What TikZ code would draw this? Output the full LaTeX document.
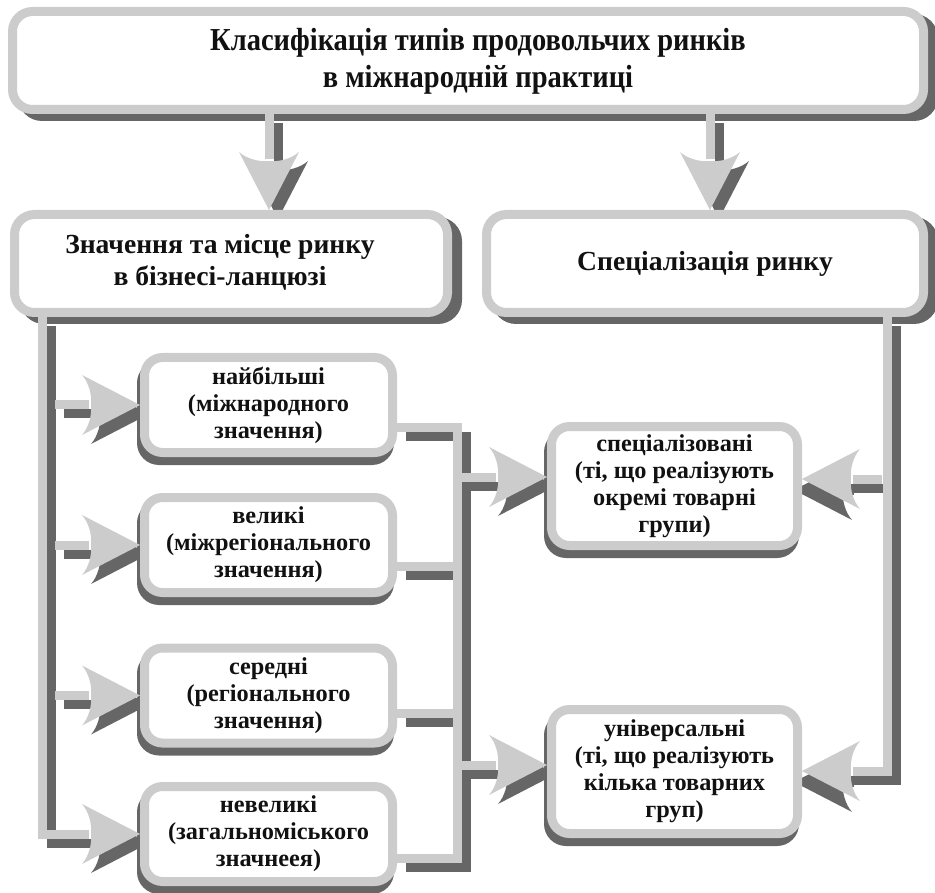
\documentclass[tikz,border=0pt]{standalone}
\usepackage{fontspec}
\setmainfont{Liberation Serif}
\newfontfamily\titlefont{Liberation Serif}[FakeStretch=0.89]
\usetikzlibrary{arrows.meta,calc}
\definecolor{pipelight}{HTML}{CCCCCC}
\definecolor{pipedark}{HTML}{666666}
\definecolor{ink}{HTML}{111111}
\pgfdeclarelayer{lyrA}
\pgfdeclarelayer{lyrB}
\pgfdeclarelayer{lyrC}
\pgfsetlayers{lyrA,lyrB,lyrC,main}
\pgfdeclarearrow{
  name = BigHead,
  parameters = {},
  setup code = {
    \pgfarrowssettipend{0pt}
    \pgfarrowssetlineend{-51pt}
    \pgfarrowssetbackend{-58pt}
    \pgfarrowshullpoint{0pt}{0pt}
    \pgfarrowsupperhullpoint{-58pt}{30pt}
  },
  drawing code = {
    \pgfpathmoveto{\pgfqpoint{0pt}{0pt}}
    \pgfpathlineto{\pgfqpoint{-58pt}{30pt}}
    \pgfpathcurveto{\pgfqpoint{-51pt}{22pt}}{\pgfqpoint{-48pt}{10pt}}{\pgfqpoint{-49pt}{0pt}}
    \pgfpathcurveto{\pgfqpoint{-48pt}{-10pt}}{\pgfqpoint{-51pt}{-22pt}}{\pgfqpoint{-58pt}{-30pt}}
    \pgfpathclose
    \pgfusepathqfill
  }
}
\tikzset{
  card/.style={draw=pipelight, fill=white, line width=9pt, rounded corners=20pt,
    inner sep=0pt, outer sep=4.5pt, align=center, text=ink},
  bigcard/.style={card, font=\bfseries\fontsize{27.6}{32}\selectfont},
  smallcard/.style={card, rounded corners=18pt, font=\bfseries\fontsize{24.3}{27}\selectfont},
  plaintext/.style={inner sep=0pt, align=center, text=ink},
  tip/.style={-BigHead},
  ltip/.style={tip},
  bigshadow/.style={pipedark, rounded corners=24pt, transform canvas={xshift=10pt,yshift=-7pt}},
  smallshadow/.style={pipedark, rounded corners=22pt, transform canvas={xshift=-3pt,yshift=-8pt}},
}
\newcommand\allpipes{%
  \draw[tip] (top.south -| ax1) -- (lbox.north -| ax1);
  \draw[tip] (top.south -| ax2) -- (rbox.north -| ax2);
  \draw[tip] (lbox.south -| lx) |- (sub4.west);
  \draw[tip] (sub1.west -| bx) -- (sub1.west);
  \draw[tip] (sub2.west -| bx) -- (sub2.west);
  \draw[tip] (sub3.west -| bx) -- (sub3.west);
  \draw (sub1.east |- m1) -- (m1) -- (m4) -- (sub4.east |- m4);
  \draw (sub2.east |- c2) -- (c2);
  \draw (sub3.east |- c3) -- (c3);
  \draw[tip] (ml1) -- (spec.west |- ml1);
  \draw[tip] (ml2) -- (univ.west |- ml2);
  \draw[ltip] (rbox.south -| r2) -- (r2) -- (univ.east |- r2);
  \draw[ltip] (r1) -- (spec.east |- r1);
}
\begin{document}
\begin{tikzpicture}[x=1pt,y=-1pt]
\useasboundingbox (0,0) rectangle (935,893);
% boxes
\node[card, minimum width=911pt, minimum height=98pt] (top) at (468,60.5) {};
\node[plaintext, font=\titlefont\bfseries\fontsize{32}{37}\selectfont] (toptext) at (478,61)
  {Класифікація типів продовольчих ринків\\в міжнародній практиці};
\node[bigcard, minimum width=433pt, minimum height=98pt] (lbox) at (231,263.5) {};
\node[plaintext, font=\bfseries\fontsize{27.6}{32}\selectfont] (lboxtext) at (220,262)
  {Значення та місце ринку\\в бізнесі-ланцюзі};
\node[bigcard, minimum width=437pt, minimum height=98pt] (rbox) at (705,263.5) {Спеціалізація ринку};
\node[smallcard, minimum width=248pt, minimum height=95pt] (sub1) at (268.5,405) {найбільші\\(міжнародного\\значення)};
\node[smallcard, minimum width=248pt, minimum height=95pt] (sub2) at (268.5,545) {великі\\(міжрегіонального\\значення)};
\node[smallcard, minimum width=248pt, minimum height=95pt] (sub3) at (268.5,695.5) {середні\\(регіонального\\значення)};
\node[smallcard, minimum width=248pt, minimum height=95pt] (sub4) at (268.5,834) {невеликі\\(загальноміського\\значнеея)};
\node[smallcard, minimum width=246pt, minimum height=119pt] (spec) at (674.5,486) {спеціалізовані\\(ті, що реалізують\\окремі товарні\\групи)};
\node[smallcard, minimum width=246pt, minimum height=124pt] (univ) at (674.5,771.5) {універсальні\\(ті, що реалізують\\кілька товарних\\груп)};
% helper coordinates
\coordinate (ax1) at (269,0);
\coordinate (ax2) at (710,0);
\coordinate (lx) at (42,0);
\coordinate (bx) at (55,0);
\coordinate (m1) at (457,427);
\coordinate (m4) at (457,858);
\coordinate (c2) at (457,566);
\coordinate (c3) at (457,713);
\coordinate (ml1) at (462,477);
\coordinate (ml2) at (462,765);
\coordinate (r1) at (882,479);
\coordinate (r2) at (887,771);
% box shadows
\begin{pgfonlayer}{lyrA}
  \foreach \b in {top,lbox,rbox}
    \fill[bigshadow] (\b.north west) rectangle (\b.south east);
  \foreach \b in {sub1,sub2,sub3,sub4,spec,univ}
    \fill[smallshadow] (\b.north west) rectangle (\b.south east);
\end{pgfonlayer}
% pipe shadows
\begin{pgfonlayer}{lyrB}
  \begin{scope}[pipedark, line width=9pt, ltip/.style={}, transform canvas={xshift=9pt,yshift=-9pt}]
    \allpipes
  \end{scope}
  \begin{scope}[pipedark, line width=9pt, transform canvas={xshift=-8pt,yshift=-11pt}]
    \draw[tip] ($(spec.east |- r1)+(60,0)$) -- (spec.east |- r1);
    \draw[tip] ($(univ.east |- r2)+(60,0)$) -- (univ.east |- r2);
  \end{scope}
\end{pgfonlayer}
% pipes
\begin{pgfonlayer}{lyrC}
  \begin{scope}[pipelight, line width=9pt]
    \allpipes
  \end{scope}
\end{pgfonlayer}
\end{tikzpicture}
\end{document}
